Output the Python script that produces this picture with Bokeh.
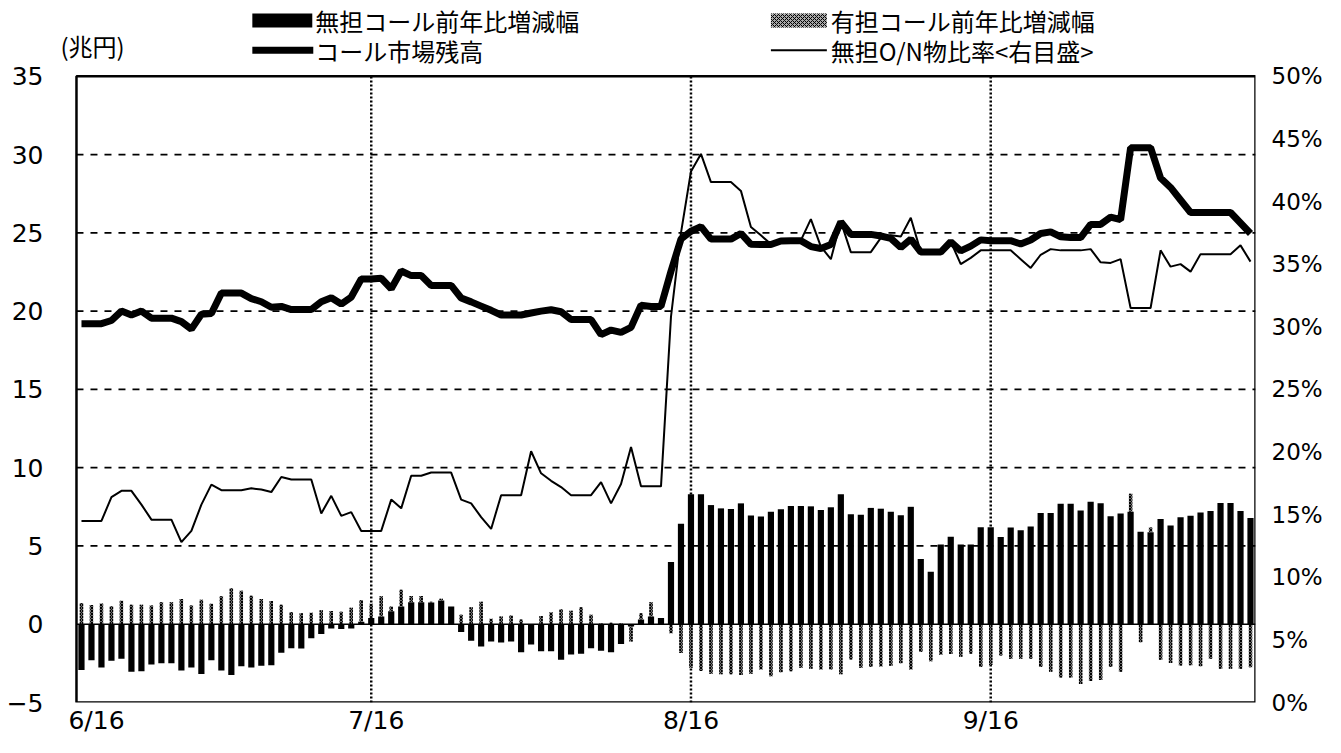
from bokeh.plotting import figure
from bokeh.models import Range1d, LinearAxis, FixedTicker
from bokeh.embed import file_html
from bokeh.resources import INLINE
from bokeh.core.properties import value

# ---------------- data ----------------
series_names = ["無担コール前年比増減幅", "有担コール前年比増減幅",
                "コール市場残高", "無担O/N物比率<右目盛>"]
unit_label = "(兆円)"

# 無担コール前年比増減幅 (兆円)
mutan = [-2.93, -2.30, -2.76, -2.34, -2.20, -3.03, -3.00, -2.57, -2.50, -2.50,
         -2.95, -2.76, -3.18, -2.30, -2.95, -3.24, -2.68, -2.76, -2.66, -2.62,
         -1.82, -1.53, -1.55, -0.90, -0.63, -0.27, -0.30, -0.27, 0.15, 0.40,
         0.50, 0.83, 1.14, 1.41, 1.41, 1.38, 1.52, 1.14, -0.49, -1.05,
         -1.43, -1.10, -1.16, -1.10, -1.79, -1.30, -1.73, -1.73, -2.27, -1.93,
         -1.88, -1.54, -1.70, -1.79, -1.27, -0.15, 0.30, 0.50, 0.40, 3.97,
         6.42, 8.30, 8.30, 7.61, 7.40, 7.36, 7.72, 6.94, 6.88, 7.19,
         7.34, 7.55, 7.55, 7.53, 7.30, 7.47, 8.30, 7.03, 6.99, 7.43,
         7.38, 7.19, 6.96, 7.50, 4.16, 3.35, 5.10, 5.58, 5.10, 5.10,
         6.20, 6.20, 5.57, 6.18, 6.00, 6.24, 7.10, 7.10, 7.70, 7.70,
         7.27, 7.83, 7.73, 6.90, 7.07, 7.18, 5.90, 5.88, 6.72, 6.30,
         6.83, 6.93, 7.14, 7.24, 7.75, 7.75, 7.24, 6.78]

# 有担コール前年比増減幅 (兆円)
yutan = [1.36, 1.22, 1.32, 1.15, 1.50, 1.25, 1.25, 1.20, 1.40, 1.40,
         1.61, 1.20, 1.57, 1.30, 1.78, 2.30, 2.14, 1.82, 1.61, 1.48,
         1.25, 0.78, 0.70, 0.74, 0.90, 0.84, 0.80, 1.05, 1.40, 0.90,
         1.28, 0.31, 1.06, 0.40, 0.40, 0.05, 0.10, 0.00, 0.60, 1.08,
         1.44, 0.35, 0.50, 0.55, 0.30, 0.00, 0.53, 0.76, 0.96, 0.86,
         1.08, 0.60, 0.05, 0.10, 0.05, -0.95, 0.40, 0.90, 0.00, -0.58,
         -1.84, -2.78, -2.99, -3.16, -3.20, -3.20, -3.24, -3.16, -2.90, -3.32,
         -3.07, -3.00, -2.78, -2.85, -2.90, -2.90, -3.20, -2.26, -2.78, -2.74,
         -2.70, -2.65, -2.50, -2.90, -1.78, -2.36, -1.95, -1.91, -2.07, -1.89,
         -2.73, -2.60, -1.99, -2.20, -2.20, -2.20, -2.73, -3.04, -3.40, -3.40,
         -3.82, -3.63, -3.57, -2.73, -3.04, 1.16, -1.15, 0.30, -2.27, -2.48,
         -2.64, -2.62, -2.68, -2.20, -2.85, -2.85, -2.85, -2.75]

# コール市場残高 (兆円)
balance = [19.2, 19.2, 19.2, 19.4, 20.0, 19.75, 20.0, 19.55, 19.55, 19.55,
           19.33, 18.85, 19.8, 19.85, 21.15, 21.15, 21.15, 20.8, 20.6, 20.25,
           20.3, 20.1, 20.1, 20.1, 20.6, 20.85, 20.45, 20.9, 22.05, 22.05,
           22.1, 21.43, 22.56, 22.27, 22.27, 21.64, 21.64, 21.64, 20.84, 20.59,
           20.32, 20.05, 19.75, 19.75, 19.75, 19.88, 20.0, 20.09, 19.96, 19.46,
           19.46, 19.46, 18.5, 18.79, 18.64, 18.96, 20.38, 20.3, 20.3, 22.55,
           24.6, 25.1, 25.4, 24.6, 24.6, 24.6, 24.96, 24.27, 24.25, 24.25,
           24.48, 24.5, 24.5, 24.12, 24.0, 24.25, 25.7, 24.9, 24.9, 24.9,
           24.8, 24.65, 24.06, 24.6, 23.77, 23.77, 23.77, 24.43, 23.85, 24.15,
           24.55, 24.5, 24.5, 24.5, 24.29, 24.54, 24.96, 25.06, 24.75, 24.7,
           24.7, 25.54, 25.54, 26.0, 25.84, 30.44, 30.44, 30.44, 28.5, 27.9,
           27.1, 26.3, 26.3, 26.3, 26.3, 26.3, 25.63, 24.96]

# 無担O/N物比率 (%)
on_ratio = [14.5, 14.5, 14.5, 16.4, 16.9, 16.9, 15.8, 14.6, 14.6, 14.6,
            12.8, 13.7, 15.8, 17.4, 16.95, 16.95, 16.95, 17.1, 17.0, 16.8,
            18.0, 17.8, 17.8, 17.8, 15.1, 16.5, 14.9, 15.2, 13.7, 13.7,
            13.7, 16.2, 15.5, 18.1, 18.1, 18.36, 18.36, 18.36, 16.2, 15.9,
            14.8, 13.86, 16.55, 16.55, 16.55, 20.06, 18.3, 17.7, 17.2, 16.55,
            16.55, 16.55, 17.6, 15.9, 17.45, 20.4, 17.26, 17.26, 17.26, 30.8,
            37.5, 42.4, 43.8, 41.55, 41.55, 41.55, 40.85, 37.97, 37.3, 36.6,
            36.9, 36.9, 36.9, 38.6, 36.4, 35.4, 38.4, 35.96, 35.96, 35.96,
            37.1, 37.3, 37.2, 38.7, 35.96, 35.96, 35.96, 36.8, 35.0, 35.5,
            36.1, 36.1, 36.1, 36.1, 35.4, 34.7, 35.75, 36.2, 36.1, 36.1,
            36.1, 36.2, 35.15, 35.1, 35.4, 31.5, 31.5, 31.5, 36.1, 34.8,
            35.0, 34.4, 35.8, 35.8, 35.8, 35.8, 36.5, 35.2]

idx = list(range(len(mutan)))

date_ticks = [1.5, 29.5, 61, 91]
date_labels = ["6/16", "7/16", "8/16", "9/16"]
date_lines = [29, 61, 91]
left_ticks = [-5, 0, 5, 10, 15, 20, 25, 30, 35]
grid_ticks = [5, 10, 15, 20, 25, 30]
right_ticks = [0, 5, 10, 15, 20, 25, 30, 35, 40, 45, 50]
y_lo, y_hi = -5, 35
r_lo, r_hi = 0, 50

# stacked (Excel-like) bottoms/tops for the 有担 series
h_bot = [b if (b * h > 0) else 0.0 for b, h in zip(mutan, yutan)]
h_top = [hb + h for hb, h in zip(h_bot, yutan)]

NUM_FONT = "DejaVu Sans"
JP_FONT = "Noto Sans CJK JP"

# ---------------- layout (canvas pixels) ----------------
W, H = 1325, 737
FR_L, FR_R, FR_T, FR_B = 76, 1256, 76, 704      # drawn chart box
PLOT_L = 52                                       # bokeh frame left edge
x_lo, x_hi = -0.5, len(idx) - 0.5
ppx = (FR_R - FR_L) / (x_hi - x_lo)
ppy = (FR_B - FR_T) / (y_hi - y_lo)
ppr = (FR_B - FR_T) / (r_hi - r_lo)

p = figure(width=W, height=H,
           x_range=Range1d(x_lo - (FR_L - PLOT_L) / ppx, x_hi),
           y_range=Range1d(y_lo, y_hi + FR_T / ppy),
           output_backend="svg", toolbar_location=None,
           min_border_left=PLOT_L, min_border_right=W - FR_R,
           min_border_top=0, min_border_bottom=H - FR_B)
p.extra_y_ranges = {"pct": Range1d(r_lo, r_hi + FR_T / ppr),
                    "py": Range1d(FR_B, 0)}
p.extra_x_ranges = {"px": Range1d(PLOT_L, FR_R)}
p.background_fill_color = "white"
p.border_fill_color = "white"
p.outline_line_color = None
p.grid.visible = False

# dashed horizontal grid lines & dotted month lines
p.segment(x0=[x_lo] * len(grid_ticks), x1=[x_hi] * len(grid_ticks),
          y0=grid_ticks, y1=grid_ticks, line_color="black", line_dash="7 7", line_width=1.8)
p.segment(x0=date_lines, x1=date_lines, y0=[y_lo] * len(date_lines), y1=[y_hi] * len(date_lines),
          line_color="black", line_dash="2 2", line_width=2.5)

# bars
p.vbar(x=idx, top=mutan, bottom=0, width=0.62, fill_color="black", line_color=None)
p.vbar(x=idx, top=h_top, bottom=h_bot, width=0.34, fill_color="#6e6e6e",
       hatch_pattern="x", hatch_color="black", hatch_scale=3, hatch_weight=1, line_color=None)
p.segment(x0=[x_lo], x1=[x_hi], y0=[0], y1=[0], line_color="black", line_width=1.5)

# lines
p.line(idx, balance, line_color="black", line_width=7)
p.line(idx, on_ratio, y_range_name="pct", line_color="black", line_width=2)

# chart box
p.quad(left=[x_lo], right=[x_hi], bottom=[y_lo], top=[y_hi], fill_color=None,
       line_color="black", line_width=2.5)

# legend (positions in canvas pixels)
p.quad(left=[252], right=[312], top=[13], bottom=[27], x_range_name="px", y_range_name="py",
       fill_color="black", line_color=None)
p.quad(left=[771], right=[827], top=[13], bottom=[27], x_range_name="px", y_range_name="py",
       fill_color="#a8a8a8", hatch_pattern="x", hatch_color="black", hatch_scale=4,
       hatch_weight=1, line_color=None)
p.segment(x0=[252], y0=[50], x1=[313], y1=[50], x_range_name="px", y_range_name="py",
          line_color="black", line_width=7)
p.segment(x0=[771], y0=[50], x1=[827], y1=[50], x_range_name="px", y_range_name="py",
          line_color="black", line_width=2)
p.text(x=[315, 831, 315, 831], y=[20, 20, 50, 50], text=series_names,
       x_range_name="px", y_range_name="py",
       text_font=value(JP_FONT), text_font_size="24px", text_baseline="middle",
       text_align="left", text_color="black")
p.text(x=[60], y=[45], text=[unit_label], x_range_name="px", y_range_name="py",
       text_font=value(JP_FONT), text_font_size="24px", text_baseline="middle",
       text_align="left", text_color="black")

# left axis
ly = p.left[0]
ly.ticker = FixedTicker(ticks=left_ticks)
ly.major_label_overrides = {-5: "−5"}
ly.major_label_text_font = NUM_FONT
ly.major_label_text_font_size = "25px"
ly.major_label_text_color = "black"
ly.major_label_standoff = 9
ly.major_tick_out = 0
ly.major_tick_in = 0
ly.minor_tick_out = 0
ly.minor_tick_in = 0
ly.axis_line_color = None

# right axis
ry = LinearAxis(y_range_name="pct", ticker=FixedTicker(ticks=right_ticks),
                major_label_overrides={t: f"{t}%" for t in right_ticks})
ry.major_label_text_font = NUM_FONT
ry.major_label_text_font_size = "23px"
ry.major_label_text_color = "black"
ry.major_label_standoff = 16
ry.major_tick_out = 0
ry.major_tick_in = 0
ry.minor_tick_out = 0
ry.minor_tick_in = 0
ry.axis_line_color = None
p.add_layout(ry, "right")

# bottom axis
bx = p.below[0]
bx.ticker = FixedTicker(ticks=date_ticks)
bx.major_label_overrides = dict(zip(date_ticks, date_labels))
bx.major_label_text_font = NUM_FONT
bx.major_label_text_font_size = "25px"
bx.major_label_text_color = "black"
bx.major_label_standoff = 3
bx.major_tick_out = 0
bx.major_tick_in = 0
bx.minor_tick_out = 0
bx.minor_tick_in = 0
bx.axis_line_color = None

open("out.html", "w").write(file_html(p, INLINE))
